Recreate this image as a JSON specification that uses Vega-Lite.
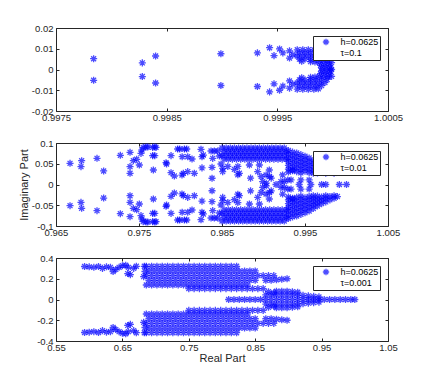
{
"$schema":"https://vega.github.io/schema/vega-lite/v6.json",
"background":"white",
"padding":{"left":17,"top":22,"right":5,"bottom":5},
"bounds":"flush",
"spacing":32,
"resolve":{"scale":{"color":"independent"},"legend":{"color":"independent"}},
"config":{
 "font":"Liberation Sans",
 "view":{"stroke":"#262626","strokeWidth":1},
 "axis":{"grid":false,"domain":false,"tickSize":-3,"tickColor":"#262626","tickWidth":1,"labelColor":"#262626","labelFont":"Liberation Sans","labelFontSize":9.5,"titleFont":"Liberation Sans","titleFontSize":11,"titleFontWeight":"normal","titleColor":"#262626","labelOverlap":false,"labelFlush":false},
 "axisX":{"labelPadding":4,"titlePadding":1},
 "axisY":{"labelPadding":6,"titlePadding":2},
 "legend":{"orient":"top-right","offset":8,"padding":1.5,"strokeColor":"#262626","fillColor":"white","symbolType":"M-1,0L1,0M0,-1L0,1M-0.7,-0.7L0.7,0.7M-0.7,0.7L0.7,-0.7","symbolSize":40,"symbolStrokeWidth":1.3,"labelFont":"Liberation Sans","labelFontSize":9,"labelColor":"#000000","labelOffset":10,"symbolOffset":7,"labelLimit":200},
 "locale":{"number":{"decimal":".","thousands":",","grouping":[3],"currency":["$",""],"minus":"-"}}
},
"vconcat":[
{
 "width":332,"height":83,
 "data":{"values":[
{"x":0.99784,"y":0.0052},{"x":0.99784,"y":-0.0052},
{"x":0.99828,"y":0.0032},{"x":0.99828,"y":-0.0034},
{"x":0.9984,"y":0.0065},{"x":0.9984,"y":-0.0065},
{"x":0.99899,"y":0.0076},{"x":0.99899,"y":-0.0077},
{"x":0.99932,"y":0.008},{"x":0.99932,"y":-0.0082},
{"x":0.99943,"y":0.0105},{"x":0.99943,"y":-0.0108},
{"x":0.99947,"y":0.0067},{"x":0.99947,"y":-0.0069},
{"x":0.99952,"y":0.0099},{"x":0.99952,"y":-0.01},
{"x":0.99955,"y":0.008},{"x":0.99955,"y":-0.008},
{"x":0.99961,"y":0.009},{"x":0.99961,"y":-0.009},
{"x":0.99961,"y":0.0055},{"x":0.99961,"y":-0.0055},
{"x":0.99964,"y":0.0071},{"x":0.99964,"y":-0.0071},
{"x":0.99968,"y":0.0095},{"x":0.99973,"y":0.0095},{"x":0.99978,"y":0.0095},{"x":0.99983,"y":0.0095},{"x":0.99987,"y":0.0093},
{"x":0.9997,"y":0.008},{"x":0.99975,"y":0.008},{"x":0.9998,"y":0.008},{"x":0.99985,"y":0.008},{"x":0.9999,"y":0.0078},
{"x":0.99968,"y":0.0065},{"x":0.99973,"y":0.0065},{"x":0.99978,"y":0.0065},{"x":0.99983,"y":0.0065},{"x":0.99988,"y":0.0065},{"x":0.99993,"y":0.0063},
{"x":0.9997,"y":0.005},{"x":0.99975,"y":0.005},{"x":0.9998,"y":0.005},{"x":0.99985,"y":0.005},{"x":0.9999,"y":0.005},{"x":0.99995,"y":0.0048},
{"x":0.99972,"y":0.004},{"x":0.9998,"y":0.0038},{"x":0.99984,"y":0.0036},
{"x":0.99988,"y":0.0035},{"x":0.99992,"y":0.0035},{"x":0.99996,"y":0.0035},{"x":0.99999,"y":0.0033},
{"x":0.99989,"y":0.002},{"x":0.99993,"y":0.002},{"x":0.99997,"y":0.002},
{"x":0.9999,"y":0.0007},{"x":0.99994,"y":0.0007},{"x":0.99998,"y":0.0007},
{"x":0.99968,"y":-0.0095},{"x":0.99973,"y":-0.0095},{"x":0.99978,"y":-0.0095},{"x":0.99983,"y":-0.0095},{"x":0.99987,"y":-0.0093},
{"x":0.9997,"y":-0.008},{"x":0.99975,"y":-0.008},{"x":0.9998,"y":-0.008},{"x":0.99985,"y":-0.008},{"x":0.9999,"y":-0.0078},
{"x":0.99968,"y":-0.0065},{"x":0.99973,"y":-0.0065},{"x":0.99978,"y":-0.0065},{"x":0.99983,"y":-0.0065},{"x":0.99988,"y":-0.0065},{"x":0.99993,"y":-0.0063},
{"x":0.9997,"y":-0.005},{"x":0.99975,"y":-0.005},{"x":0.9998,"y":-0.005},{"x":0.99985,"y":-0.005},{"x":0.9999,"y":-0.005},{"x":0.99995,"y":-0.0048},
{"x":0.99972,"y":-0.004},{"x":0.9998,"y":-0.0038},{"x":0.99984,"y":-0.0036},
{"x":0.99988,"y":-0.0035},{"x":0.99992,"y":-0.0035},{"x":0.99996,"y":-0.0035},{"x":0.99999,"y":-0.0033},
{"x":0.99989,"y":-0.002},{"x":0.99993,"y":-0.002},{"x":0.99997,"y":-0.002},
{"x":0.9999,"y":-0.0007},{"x":0.99994,"y":-0.0007},{"x":0.99998,"y":-0.0007},
{"x":0.99999,"y":0}
 ]},
 "layer":[
  {"mark":{"type":"point","shape":"M-1,0L1,0M0,-1L0,1M-0.7,-0.7L0.7,0.7M-0.7,0.7L0.7,-0.7","filled":false,"size":50,"strokeWidth":1.3},
   "encoding":{
    "x":{"field":"x","type":"quantitative","scale":{"domain":[0.9975,1.0005],"nice":false,"zero":false},"axis":{"values":[0.9975,0.9985,0.9995,1.0005],"format":".5~g","title":null}},
    "y":{"field":"y","type":"quantitative","scale":{"domain":[-0.02,0.02],"nice":false,"zero":false},"axis":{"values":[-0.02,-0.01,0,0.01,0.02],"format":".3~g","title":null}},
    "color":{"datum":"h=0.0625|τ=0.1","type":"nominal","scale":{"range":["#0000ff"]},"legend":{"title":null,"labelExpr":"split(datum.label,'|')","encode":{"labels":{"update":{"lineHeight":{"value":10}}}}}}
   }},
  {"mark":{"type":"point","opacity":0},
   "encoding":{
    "x":{"field":"x","type":"quantitative","scale":{"domain":[0.9975,1.0005],"nice":false,"zero":false},"axis":{"orient":"top","values":[0.9975,0.9985,0.9995,1.0005],"labels":false,"title":null}},
    "y":{"field":"y","type":"quantitative","scale":{"domain":[-0.02,0.02],"nice":false,"zero":false},"axis":{"orient":"right","values":[-0.02,-0.01,0,0.01,0.02],"labels":false,"title":null}}
   }}
 ],
 "resolve":{"axis":{"x":"independent","y":"independent"}}
},
{
 "width":332,"height":83,
 "data":{"values":[
{"x":0.96669,"y":0.051},{"x":0.96801,"y":0.043},{"x":0.96809,"y":0.0574},{"x":0.96994,"y":0.0631},{"x":0.97074,"y":0.0326},{"x":0.97275,"y":0.0703},{"x":0.97392,"y":0.0775},{"x":0.97392,"y":0.043},{"x":0.97392,"y":0.027},{"x":0.97432,"y":0.0574},{"x":0.97472,"y":0.0607},{"x":0.97504,"y":0.047},{"x":0.97524,"y":0.075},{"x":0.97536,"y":0.0831},{"x":0.9755,"y":0.0895},{"x":0.97585,"y":0.0905},{"x":0.97605,"y":0.0905},{"x":0.97665,"y":0.0895},{"x":0.9769,"y":0.0905},{"x":0.97705,"y":0.0895},{"x":0.97665,"y":0.0695},{"x":0.9769,"y":0.0695},{"x":0.97673,"y":0.035},{"x":0.97826,"y":0.0526},{"x":0.97832,"y":0.0495},{"x":0.97886,"y":0.0695},{"x":0.97886,"y":0.0285},{"x":0.97926,"y":0.0205},{"x":0.97966,"y":0.0856},{"x":0.9799,"y":0.0856},{"x":0.98047,"y":0.0856},{"x":0.98075,"y":0.0856},{"x":0.98018,"y":0.0228},{"x":0.98034,"y":0.0269},{"x":0.9802,"y":0.067},{"x":0.98087,"y":0.067},{"x":0.98139,"y":0.0615},{"x":0.98087,"y":0.031},{"x":0.98167,"y":0.027},{"x":0.98247,"y":0.0848},{"x":0.98259,"y":0.067},{"x":0.98275,"y":0.071},{"x":0.98259,"y":0.04},{"x":0.98368,"y":0.0807},{"x":0.98408,"y":0.0807},{"x":0.98448,"y":0.0807},{"x":0.9838,"y":0.0414},{"x":0.9838,"y":0.015},{"x":0.98388,"y":0.063},{"x":0.98468,"y":0.0687},{"x":0.98488,"y":0.0494},{"x":0.98509,"y":0.039},
{"x":0.96669,"y":-0.051},{"x":0.96801,"y":-0.043},{"x":0.96809,"y":-0.0574},{"x":0.96994,"y":-0.0631},{"x":0.97074,"y":-0.0326},{"x":0.97275,"y":-0.0703},{"x":0.97392,"y":-0.0775},{"x":0.97392,"y":-0.043},{"x":0.97392,"y":-0.027},{"x":0.97432,"y":-0.0574},{"x":0.97472,"y":-0.0607},{"x":0.97504,"y":-0.047},{"x":0.97524,"y":-0.075},{"x":0.97536,"y":-0.0831},{"x":0.9755,"y":-0.0895},{"x":0.97585,"y":-0.0905},{"x":0.97605,"y":-0.0905},{"x":0.97665,"y":-0.0895},{"x":0.9769,"y":-0.0905},{"x":0.97705,"y":-0.0895},{"x":0.97665,"y":-0.0695},{"x":0.9769,"y":-0.0695},{"x":0.97673,"y":-0.035},{"x":0.97826,"y":-0.0526},{"x":0.97832,"y":-0.0495},{"x":0.97886,"y":-0.0695},{"x":0.97886,"y":-0.0285},{"x":0.97926,"y":-0.0205},{"x":0.97966,"y":-0.0856},{"x":0.9799,"y":-0.0856},{"x":0.98047,"y":-0.0856},{"x":0.98075,"y":-0.0856},{"x":0.98018,"y":-0.0228},{"x":0.98034,"y":-0.0269},{"x":0.9802,"y":-0.067},{"x":0.98087,"y":-0.067},{"x":0.98139,"y":-0.0615},{"x":0.98087,"y":-0.031},{"x":0.98167,"y":-0.027},{"x":0.98247,"y":-0.0848},{"x":0.98259,"y":-0.067},{"x":0.98275,"y":-0.071},{"x":0.98259,"y":-0.04},{"x":0.98368,"y":-0.0807},{"x":0.98408,"y":-0.0807},{"x":0.98448,"y":-0.0807},{"x":0.9838,"y":-0.0414},{"x":0.9838,"y":-0.015},{"x":0.98388,"y":-0.063},{"x":0.98468,"y":-0.0687},{"x":0.98488,"y":-0.0494},{"x":0.98509,"y":-0.039},
{"x":0.98508,"y":0.031},{"x":0.9857,"y":0.0435},{"x":0.98649,"y":0.0365},{"x":0.98691,"y":0.0234},{"x":0.98691,"y":0.0435},{"x":0.98709,"y":0.027},{"x":0.9883,"y":0.047},{"x":0.98844,"y":0.0153},{"x":0.9893,"y":0.031},{"x":0.9895,"y":0.047},{"x":0.98972,"y":0.0193},{"x":0.9899,"y":0.007},{"x":0.99031,"y":0.023},{"x":0.99033,"y":0.0032},{"x":0.9907,"y":0.035},{"x":0.99073,"y":0.0193},{"x":0.99093,"y":0.0153},{"x":0.9921,"y":0.007},{"x":0.9925,"y":0.007},{"x":0.9923,"y":0.023},{"x":0.99292,"y":0.011},{"x":0.99332,"y":0.011},{"x":0.99352,"y":0.035},{"x":0.9945,"y":0.011},{"x":0.9955,"y":0.011},
{"x":0.98508,"y":-0.031},{"x":0.9857,"y":-0.0435},{"x":0.98649,"y":-0.0365},{"x":0.98691,"y":-0.0234},{"x":0.98691,"y":-0.0435},{"x":0.98709,"y":-0.027},{"x":0.9883,"y":-0.047},{"x":0.98844,"y":-0.0153},{"x":0.9893,"y":-0.031},{"x":0.9895,"y":-0.047},{"x":0.98972,"y":-0.0193},{"x":0.9899,"y":-0.007},{"x":0.99031,"y":-0.023},{"x":0.99033,"y":-0.0032},{"x":0.9907,"y":-0.035},{"x":0.99073,"y":-0.0193},{"x":0.99093,"y":-0.0153},{"x":0.9921,"y":-0.007},{"x":0.9925,"y":-0.007},{"x":0.9923,"y":-0.023},{"x":0.99292,"y":-0.011},{"x":0.99332,"y":-0.011},{"x":0.99352,"y":-0.035},{"x":0.9945,"y":-0.011},{"x":0.9955,"y":-0.011},
{"x":0.99151,"y":0},{"x":0.9943,"y":0},{"x":0.9957,"y":0},{"x":0.997,"y":0},{"x":0.9975,"y":0},{"x":0.99914,"y":0},{"x":1.0,"y":0},
{"x":0.985,"y":0.088},{"x":0.9855,"y":0.088},{"x":0.986,"y":0.088},{"x":0.9865,"y":0.088},{"x":0.987,"y":0.088},{"x":0.9875,"y":0.088},{"x":0.988,"y":0.088},{"x":0.9885,"y":0.088},{"x":0.989,"y":0.088},{"x":0.9895,"y":0.088},{"x":0.99,"y":0.088},{"x":0.9905,"y":0.088},{"x":0.991,"y":0.088},{"x":0.9915,"y":0.088},{"x":0.992,"y":0.088},{"x":0.9925,"y":0.088},
{"x":0.98525,"y":0.079},{"x":0.98575,"y":0.079},{"x":0.98625,"y":0.079},{"x":0.98675,"y":0.079},{"x":0.98725,"y":0.079},{"x":0.98775,"y":0.079},{"x":0.98825,"y":0.079},{"x":0.98875,"y":0.079},{"x":0.98925,"y":0.079},{"x":0.98975,"y":0.079},{"x":0.99025,"y":0.079},{"x":0.99075,"y":0.079},{"x":0.99125,"y":0.079},{"x":0.99175,"y":0.079},{"x":0.99225,"y":0.079},{"x":0.99275,"y":0.079},
{"x":0.985,"y":0.07},{"x":0.9855,"y":0.07},{"x":0.986,"y":0.07},{"x":0.9865,"y":0.07},{"x":0.987,"y":0.07},{"x":0.9875,"y":0.07},{"x":0.988,"y":0.07},{"x":0.9885,"y":0.07},{"x":0.989,"y":0.07},{"x":0.9895,"y":0.07},{"x":0.99,"y":0.07},{"x":0.9905,"y":0.07},{"x":0.991,"y":0.07},{"x":0.9915,"y":0.07},{"x":0.992,"y":0.07},{"x":0.9925,"y":0.07},
{"x":0.98525,"y":0.061},{"x":0.98575,"y":0.061},{"x":0.98625,"y":0.061},{"x":0.98675,"y":0.061},{"x":0.98725,"y":0.061},{"x":0.98775,"y":0.061},{"x":0.98825,"y":0.061},{"x":0.98875,"y":0.061},{"x":0.98925,"y":0.061},{"x":0.98975,"y":0.061},{"x":0.99025,"y":0.061},{"x":0.99075,"y":0.061},{"x":0.99125,"y":0.061},{"x":0.99175,"y":0.061},{"x":0.99225,"y":0.061},{"x":0.99275,"y":0.061},
{"x":0.985,"y":-0.088},{"x":0.9855,"y":-0.088},{"x":0.986,"y":-0.088},{"x":0.9865,"y":-0.088},{"x":0.987,"y":-0.088},{"x":0.9875,"y":-0.088},{"x":0.988,"y":-0.088},{"x":0.9885,"y":-0.088},{"x":0.989,"y":-0.088},{"x":0.9895,"y":-0.088},{"x":0.99,"y":-0.088},{"x":0.9905,"y":-0.088},{"x":0.991,"y":-0.088},{"x":0.9915,"y":-0.088},{"x":0.992,"y":-0.088},{"x":0.9925,"y":-0.088},
{"x":0.98525,"y":-0.079},{"x":0.98575,"y":-0.079},{"x":0.98625,"y":-0.079},{"x":0.98675,"y":-0.079},{"x":0.98725,"y":-0.079},{"x":0.98775,"y":-0.079},{"x":0.98825,"y":-0.079},{"x":0.98875,"y":-0.079},{"x":0.98925,"y":-0.079},{"x":0.98975,"y":-0.079},{"x":0.99025,"y":-0.079},{"x":0.99075,"y":-0.079},{"x":0.99125,"y":-0.079},{"x":0.99175,"y":-0.079},{"x":0.99225,"y":-0.079},{"x":0.99275,"y":-0.079},
{"x":0.985,"y":-0.07},{"x":0.9855,"y":-0.07},{"x":0.986,"y":-0.07},{"x":0.9865,"y":-0.07},{"x":0.987,"y":-0.07},{"x":0.9875,"y":-0.07},{"x":0.988,"y":-0.07},{"x":0.9885,"y":-0.07},{"x":0.989,"y":-0.07},{"x":0.9895,"y":-0.07},{"x":0.99,"y":-0.07},{"x":0.9905,"y":-0.07},{"x":0.991,"y":-0.07},{"x":0.9915,"y":-0.07},{"x":0.992,"y":-0.07},{"x":0.9925,"y":-0.07},
{"x":0.98525,"y":-0.061},{"x":0.98575,"y":-0.061},{"x":0.98625,"y":-0.061},{"x":0.98675,"y":-0.061},{"x":0.98725,"y":-0.061},{"x":0.98775,"y":-0.061},{"x":0.98825,"y":-0.061},{"x":0.98875,"y":-0.061},{"x":0.98925,"y":-0.061},{"x":0.98975,"y":-0.061},{"x":0.99025,"y":-0.061},{"x":0.99075,"y":-0.061},{"x":0.99125,"y":-0.061},{"x":0.99175,"y":-0.061},{"x":0.99225,"y":-0.061},{"x":0.99275,"y":-0.061},
{"x":0.993,"y":0.082},{"x":0.993,"y":0.073},{"x":0.993,"y":0.064},{"x":0.993,"y":0.055},{"x":0.993,"y":0.046},{"x":0.993,"y":0.037},{"x":0.993,"y":0.03},
{"x":0.9935,"y":0.078},{"x":0.9935,"y":0.069},{"x":0.9935,"y":0.06},{"x":0.9935,"y":0.051},{"x":0.9935,"y":0.042},{"x":0.9935,"y":0.033},
{"x":0.994,"y":0.076},{"x":0.994,"y":0.067},{"x":0.994,"y":0.058},{"x":0.994,"y":0.049},{"x":0.994,"y":0.04},{"x":0.994,"y":0.031},
{"x":0.9945,"y":0.072},{"x":0.9945,"y":0.063},{"x":0.9945,"y":0.054},{"x":0.9945,"y":0.045},{"x":0.9945,"y":0.036},{"x":0.9945,"y":0.028},
{"x":0.995,"y":0.068},{"x":0.995,"y":0.059},{"x":0.995,"y":0.05},{"x":0.995,"y":0.041},{"x":0.995,"y":0.032},
{"x":0.9955,"y":0.064},{"x":0.9955,"y":0.055},{"x":0.9955,"y":0.046},{"x":0.9955,"y":0.037},{"x":0.9955,"y":0.029},
{"x":0.996,"y":0.058},{"x":0.996,"y":0.05},{"x":0.996,"y":0.042},{"x":0.996,"y":0.034},{"x":0.996,"y":0.027},
{"x":0.9965,"y":0.052},{"x":0.9965,"y":0.044},{"x":0.9965,"y":0.036},{"x":0.9965,"y":0.028},
{"x":0.997,"y":0.046},{"x":0.997,"y":0.038},{"x":0.997,"y":0.03},
{"x":0.9975,"y":0.042},{"x":0.9975,"y":0.034},{"x":0.9975,"y":0.027},
{"x":0.998,"y":0.037},{"x":0.998,"y":0.029},
{"x":0.9985,"y":0.033},{"x":0.9985,"y":0.027},
{"x":0.9989,"y":0.029},
{"x":0.993,"y":-0.082},{"x":0.993,"y":-0.073},{"x":0.993,"y":-0.064},{"x":0.993,"y":-0.055},{"x":0.993,"y":-0.046},{"x":0.993,"y":-0.037},{"x":0.993,"y":-0.03},
{"x":0.9935,"y":-0.078},{"x":0.9935,"y":-0.069},{"x":0.9935,"y":-0.06},{"x":0.9935,"y":-0.051},{"x":0.9935,"y":-0.042},{"x":0.9935,"y":-0.033},
{"x":0.994,"y":-0.076},{"x":0.994,"y":-0.067},{"x":0.994,"y":-0.058},{"x":0.994,"y":-0.049},{"x":0.994,"y":-0.04},{"x":0.994,"y":-0.031},
{"x":0.9945,"y":-0.072},{"x":0.9945,"y":-0.063},{"x":0.9945,"y":-0.054},{"x":0.9945,"y":-0.045},{"x":0.9945,"y":-0.036},{"x":0.9945,"y":-0.028},
{"x":0.995,"y":-0.068},{"x":0.995,"y":-0.059},{"x":0.995,"y":-0.05},{"x":0.995,"y":-0.041},{"x":0.995,"y":-0.032},
{"x":0.9955,"y":-0.064},{"x":0.9955,"y":-0.055},{"x":0.9955,"y":-0.046},{"x":0.9955,"y":-0.037},{"x":0.9955,"y":-0.029},
{"x":0.996,"y":-0.058},{"x":0.996,"y":-0.05},{"x":0.996,"y":-0.042},{"x":0.996,"y":-0.034},{"x":0.996,"y":-0.027},
{"x":0.9965,"y":-0.052},{"x":0.9965,"y":-0.044},{"x":0.9965,"y":-0.036},{"x":0.9965,"y":-0.028},
{"x":0.997,"y":-0.046},{"x":0.997,"y":-0.038},{"x":0.997,"y":-0.03},
{"x":0.9975,"y":-0.042},{"x":0.9975,"y":-0.034},{"x":0.9975,"y":-0.027},
{"x":0.998,"y":-0.037},{"x":0.998,"y":-0.029},
{"x":0.9985,"y":-0.033},{"x":0.9985,"y":-0.027},
{"x":0.9989,"y":-0.029}
 ]},
 "layer":[
  {"mark":{"type":"point","shape":"M-1,0L1,0M0,-1L0,1M-0.7,-0.7L0.7,0.7M-0.7,0.7L0.7,-0.7","filled":false,"size":50,"strokeWidth":1.3},
   "encoding":{
    "x":{"field":"x","type":"quantitative","scale":{"domain":[0.965,1.005],"nice":false,"zero":false},"axis":{"values":[0.965,0.975,0.985,0.995,1.005],"format":".4~g","title":null}},
    "y":{"field":"y","type":"quantitative","scale":{"domain":[-0.1,0.1],"nice":false,"zero":false},"axis":{"values":[-0.1,-0.05,0,0.05,0.1],"format":".3~g","title":"Imaginary Part"}},
    "color":{"datum":"h=0.0625|τ=0.01","type":"nominal","scale":{"range":["#0000ff"]},"legend":{"title":null,"labelExpr":"split(datum.label,'|')","encode":{"labels":{"update":{"lineHeight":{"value":10}}}}}}
   }},
  {"mark":{"type":"point","opacity":0},
   "encoding":{
    "x":{"field":"x","type":"quantitative","scale":{"domain":[0.965,1.005],"nice":false,"zero":false},"axis":{"orient":"top","values":[0.965,0.975,0.985,0.995,1.005],"labels":false,"title":null}},
    "y":{"field":"y","type":"quantitative","scale":{"domain":[-0.1,0.1],"nice":false,"zero":false},"axis":{"orient":"right","values":[-0.1,-0.05,0,0.05,0.1],"labels":false,"title":null}}
   }}
 ],
 "resolve":{"axis":{"x":"independent","y":"independent"}}
},
{
 "width":332,"height":83,
 "data":{"values":[
{"x":0.686,"y":0.32},{"x":0.694,"y":0.32},{"x":0.702,"y":0.32},{"x":0.71,"y":0.32},{"x":0.718,"y":0.32},{"x":0.726,"y":0.32},{"x":0.734,"y":0.32},{"x":0.742,"y":0.32},{"x":0.75,"y":0.32},{"x":0.758,"y":0.32},{"x":0.766,"y":0.32},{"x":0.774,"y":0.32},{"x":0.782,"y":0.32},{"x":0.79,"y":0.32},{"x":0.798,"y":0.32},{"x":0.806,"y":0.32},{"x":0.814,"y":0.32},{"x":0.822,"y":0.32},
{"x":0.69,"y":0.275},{"x":0.698,"y":0.275},{"x":0.706,"y":0.275},{"x":0.714,"y":0.275},{"x":0.722,"y":0.275},{"x":0.73,"y":0.275},{"x":0.738,"y":0.275},{"x":0.746,"y":0.275},{"x":0.754,"y":0.275},{"x":0.762,"y":0.275},{"x":0.77,"y":0.275},{"x":0.778,"y":0.275},{"x":0.786,"y":0.275},{"x":0.794,"y":0.275},{"x":0.802,"y":0.275},{"x":0.81,"y":0.275},{"x":0.818,"y":0.275},{"x":0.826,"y":0.275},{"x":0.834,"y":0.275},{"x":0.842,"y":0.275},{"x":0.85,"y":0.275},
{"x":0.686,"y":0.23},{"x":0.694,"y":0.23},{"x":0.702,"y":0.23},{"x":0.71,"y":0.23},{"x":0.718,"y":0.23},{"x":0.726,"y":0.23},{"x":0.734,"y":0.23},{"x":0.742,"y":0.23},{"x":0.75,"y":0.23},{"x":0.758,"y":0.23},{"x":0.766,"y":0.23},{"x":0.774,"y":0.23},{"x":0.782,"y":0.23},{"x":0.79,"y":0.23},{"x":0.798,"y":0.23},{"x":0.806,"y":0.23},{"x":0.814,"y":0.23},{"x":0.822,"y":0.23},{"x":0.83,"y":0.23},{"x":0.838,"y":0.23},{"x":0.846,"y":0.23},{"x":0.854,"y":0.23},{"x":0.862,"y":0.23},{"x":0.87,"y":0.23},{"x":0.878,"y":0.23},
{"x":0.69,"y":0.185},{"x":0.698,"y":0.185},{"x":0.706,"y":0.185},{"x":0.714,"y":0.185},{"x":0.722,"y":0.185},{"x":0.73,"y":0.185},{"x":0.738,"y":0.185},{"x":0.746,"y":0.185},{"x":0.754,"y":0.185},{"x":0.762,"y":0.185},{"x":0.77,"y":0.185},{"x":0.778,"y":0.185},{"x":0.786,"y":0.185},{"x":0.794,"y":0.185},{"x":0.802,"y":0.185},{"x":0.81,"y":0.185},{"x":0.818,"y":0.185},{"x":0.826,"y":0.185},{"x":0.834,"y":0.185},{"x":0.842,"y":0.185},{"x":0.85,"y":0.185},{"x":0.866,"y":0.185},{"x":0.874,"y":0.185},{"x":0.882,"y":0.19},{"x":0.89,"y":0.195},{"x":0.898,"y":0.2},
{"x":0.686,"y":0.14},{"x":0.694,"y":0.14},{"x":0.702,"y":0.14},{"x":0.71,"y":0.14},{"x":0.718,"y":0.14},{"x":0.726,"y":0.14},{"x":0.734,"y":0.14},{"x":0.742,"y":0.14},{"x":0.75,"y":0.14},{"x":0.758,"y":0.14},{"x":0.766,"y":0.14},{"x":0.774,"y":0.14},{"x":0.782,"y":0.14},{"x":0.79,"y":0.14},{"x":0.798,"y":0.14},{"x":0.806,"y":0.14},{"x":0.814,"y":0.14},{"x":0.822,"y":0.14},{"x":0.83,"y":0.14},{"x":0.838,"y":0.14},
{"x":0.75,"y":0.105},{"x":0.758,"y":0.105},{"x":0.766,"y":0.105},{"x":0.774,"y":0.105},{"x":0.782,"y":0.105},{"x":0.79,"y":0.105},{"x":0.798,"y":0.105},{"x":0.806,"y":0.105},{"x":0.814,"y":0.105},{"x":0.822,"y":0.105},{"x":0.83,"y":0.105},{"x":0.838,"y":0.105},{"x":0.846,"y":0.105},{"x":0.854,"y":0.105},{"x":0.862,"y":0.105},
{"x":0.87,"y":0.075},{"x":0.878,"y":0.065},
{"x":0.882,"y":0.08},{"x":0.89,"y":0.08},{"x":0.898,"y":0.08},{"x":0.906,"y":0.075},{"x":0.914,"y":0.07},
{"x":0.866,"y":0.045},{"x":0.874,"y":0.045},{"x":0.882,"y":0.045},{"x":0.89,"y":0.045},{"x":0.898,"y":0.045},{"x":0.906,"y":0.045},{"x":0.914,"y":0.04},{"x":0.922,"y":0.04},{"x":0.93,"y":0.035},{"x":0.938,"y":0.03},{"x":0.946,"y":0.025},
{"x":0.593,"y":0.318},{"x":0.6,"y":0.315},{"x":0.607,"y":0.31},{"x":0.614,"y":0.318},{"x":0.62,"y":0.3},{"x":0.626,"y":0.315},{"x":0.632,"y":0.31},{"x":0.636,"y":0.27},{"x":0.64,"y":0.29},{"x":0.645,"y":0.31},{"x":0.65,"y":0.325},{"x":0.655,"y":0.33},{"x":0.659,"y":0.31},{"x":0.658,"y":0.25},{"x":0.662,"y":0.24},{"x":0.667,"y":0.3},{"x":0.671,"y":0.32},{"x":0.683,"y":0.32},{"x":0.682,"y":0.22},{"x":0.684,"y":0.27},
{"x":0.686,"y":-0.32},{"x":0.694,"y":-0.32},{"x":0.702,"y":-0.32},{"x":0.71,"y":-0.32},{"x":0.718,"y":-0.32},{"x":0.726,"y":-0.32},{"x":0.734,"y":-0.32},{"x":0.742,"y":-0.32},{"x":0.75,"y":-0.32},{"x":0.758,"y":-0.32},{"x":0.766,"y":-0.32},{"x":0.774,"y":-0.32},{"x":0.782,"y":-0.32},{"x":0.79,"y":-0.32},{"x":0.798,"y":-0.32},{"x":0.806,"y":-0.32},{"x":0.814,"y":-0.32},{"x":0.822,"y":-0.32},
{"x":0.69,"y":-0.275},{"x":0.698,"y":-0.275},{"x":0.706,"y":-0.275},{"x":0.714,"y":-0.275},{"x":0.722,"y":-0.275},{"x":0.73,"y":-0.275},{"x":0.738,"y":-0.275},{"x":0.746,"y":-0.275},{"x":0.754,"y":-0.275},{"x":0.762,"y":-0.275},{"x":0.77,"y":-0.275},{"x":0.778,"y":-0.275},{"x":0.786,"y":-0.275},{"x":0.794,"y":-0.275},{"x":0.802,"y":-0.275},{"x":0.81,"y":-0.275},{"x":0.818,"y":-0.275},{"x":0.826,"y":-0.275},{"x":0.834,"y":-0.275},{"x":0.842,"y":-0.275},{"x":0.85,"y":-0.275},
{"x":0.686,"y":-0.23},{"x":0.694,"y":-0.23},{"x":0.702,"y":-0.23},{"x":0.71,"y":-0.23},{"x":0.718,"y":-0.23},{"x":0.726,"y":-0.23},{"x":0.734,"y":-0.23},{"x":0.742,"y":-0.23},{"x":0.75,"y":-0.23},{"x":0.758,"y":-0.23},{"x":0.766,"y":-0.23},{"x":0.774,"y":-0.23},{"x":0.782,"y":-0.23},{"x":0.79,"y":-0.23},{"x":0.798,"y":-0.23},{"x":0.806,"y":-0.23},{"x":0.814,"y":-0.23},{"x":0.822,"y":-0.23},{"x":0.83,"y":-0.23},{"x":0.838,"y":-0.23},{"x":0.846,"y":-0.23},{"x":0.854,"y":-0.23},{"x":0.862,"y":-0.23},{"x":0.87,"y":-0.23},{"x":0.878,"y":-0.23},
{"x":0.69,"y":-0.185},{"x":0.698,"y":-0.185},{"x":0.706,"y":-0.185},{"x":0.714,"y":-0.185},{"x":0.722,"y":-0.185},{"x":0.73,"y":-0.185},{"x":0.738,"y":-0.185},{"x":0.746,"y":-0.185},{"x":0.754,"y":-0.185},{"x":0.762,"y":-0.185},{"x":0.77,"y":-0.185},{"x":0.778,"y":-0.185},{"x":0.786,"y":-0.185},{"x":0.794,"y":-0.185},{"x":0.802,"y":-0.185},{"x":0.81,"y":-0.185},{"x":0.818,"y":-0.185},{"x":0.826,"y":-0.185},{"x":0.834,"y":-0.185},{"x":0.842,"y":-0.185},{"x":0.85,"y":-0.185},{"x":0.866,"y":-0.185},{"x":0.874,"y":-0.185},{"x":0.882,"y":-0.19},{"x":0.89,"y":-0.195},{"x":0.898,"y":-0.2},
{"x":0.686,"y":-0.14},{"x":0.694,"y":-0.14},{"x":0.702,"y":-0.14},{"x":0.71,"y":-0.14},{"x":0.718,"y":-0.14},{"x":0.726,"y":-0.14},{"x":0.734,"y":-0.14},{"x":0.742,"y":-0.14},{"x":0.75,"y":-0.14},{"x":0.758,"y":-0.14},{"x":0.766,"y":-0.14},{"x":0.774,"y":-0.14},{"x":0.782,"y":-0.14},{"x":0.79,"y":-0.14},{"x":0.798,"y":-0.14},{"x":0.806,"y":-0.14},{"x":0.814,"y":-0.14},{"x":0.822,"y":-0.14},{"x":0.83,"y":-0.14},{"x":0.838,"y":-0.14},
{"x":0.75,"y":-0.105},{"x":0.758,"y":-0.105},{"x":0.766,"y":-0.105},{"x":0.774,"y":-0.105},{"x":0.782,"y":-0.105},{"x":0.79,"y":-0.105},{"x":0.798,"y":-0.105},{"x":0.806,"y":-0.105},{"x":0.814,"y":-0.105},{"x":0.822,"y":-0.105},{"x":0.83,"y":-0.105},{"x":0.838,"y":-0.105},{"x":0.846,"y":-0.105},{"x":0.854,"y":-0.105},{"x":0.862,"y":-0.105},
{"x":0.87,"y":-0.075},{"x":0.878,"y":-0.065},
{"x":0.882,"y":-0.08},{"x":0.89,"y":-0.08},{"x":0.898,"y":-0.08},{"x":0.906,"y":-0.075},{"x":0.914,"y":-0.07},
{"x":0.866,"y":-0.045},{"x":0.874,"y":-0.045},{"x":0.882,"y":-0.045},{"x":0.89,"y":-0.045},{"x":0.898,"y":-0.045},{"x":0.906,"y":-0.045},{"x":0.914,"y":-0.04},{"x":0.922,"y":-0.04},{"x":0.93,"y":-0.035},{"x":0.938,"y":-0.03},{"x":0.946,"y":-0.025},
{"x":0.593,"y":-0.318},{"x":0.6,"y":-0.315},{"x":0.607,"y":-0.31},{"x":0.614,"y":-0.318},{"x":0.62,"y":-0.3},{"x":0.626,"y":-0.315},{"x":0.632,"y":-0.31},{"x":0.636,"y":-0.27},{"x":0.64,"y":-0.29},{"x":0.645,"y":-0.31},{"x":0.65,"y":-0.325},{"x":0.655,"y":-0.33},{"x":0.659,"y":-0.31},{"x":0.658,"y":-0.25},{"x":0.662,"y":-0.24},{"x":0.667,"y":-0.3},{"x":0.671,"y":-0.32},{"x":0.683,"y":-0.32},{"x":0.682,"y":-0.22},{"x":0.684,"y":-0.27},
{"x":0.81,"y":0},{"x":0.818,"y":0},{"x":0.826,"y":0},{"x":0.834,"y":0},{"x":0.842,"y":0},{"x":0.85,"y":0},{"x":0.858,"y":0},{"x":0.866,"y":0},{"x":0.874,"y":0},{"x":0.882,"y":0},{"x":0.89,"y":0},{"x":0.898,"y":0},{"x":0.906,"y":0},{"x":0.914,"y":0},{"x":0.922,"y":0},{"x":0.93,"y":0},{"x":0.938,"y":0},{"x":0.946,"y":0},{"x":0.954,"y":0},{"x":0.962,"y":0},{"x":0.97,"y":0},{"x":0.978,"y":0},{"x":0.986,"y":0},{"x":0.994,"y":0},{"x":1.0,"y":0}
 ]},
 "layer":[
  {"mark":{"type":"point","shape":"M-1,0L1,0M0,-1L0,1M-0.7,-0.7L0.7,0.7M-0.7,0.7L0.7,-0.7","filled":false,"size":50,"strokeWidth":1.3},
   "encoding":{
    "x":{"field":"x","type":"quantitative","scale":{"domain":[0.55,1.05],"nice":false,"zero":false},"axis":{"values":[0.55,0.65,0.75,0.85,0.95,1.05],"format":".3~g","title":"Real Part"}},
    "y":{"field":"y","type":"quantitative","scale":{"domain":[-0.4,0.4],"nice":false,"zero":false},"axis":{"values":[-0.4,-0.2,0,0.2,0.4],"format":".3~g","title":null}},
    "color":{"datum":"h=0.0625|τ=0.001","type":"nominal","scale":{"range":["#0000ff"]},"legend":{"title":null,"labelExpr":"split(datum.label,'|')","encode":{"labels":{"update":{"lineHeight":{"value":10}}}}}}
   }},
  {"mark":{"type":"point","opacity":0},
   "encoding":{
    "x":{"field":"x","type":"quantitative","scale":{"domain":[0.55,1.05],"nice":false,"zero":false},"axis":{"orient":"top","values":[0.55,0.65,0.75,0.85,0.95,1.05],"labels":false,"title":null}},
    "y":{"field":"y","type":"quantitative","scale":{"domain":[-0.4,0.4],"nice":false,"zero":false},"axis":{"orient":"right","values":[-0.4,-0.2,0,0.2,0.4],"labels":false,"title":null}}
   }}
 ],
 "resolve":{"axis":{"x":"independent","y":"independent"}}
}
]
}
